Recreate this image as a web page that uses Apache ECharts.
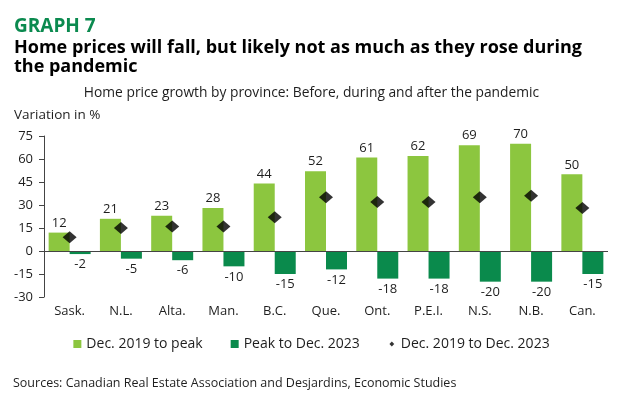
<!DOCTYPE html>
<html><head><meta charset="utf-8">
<script src="https://cdn.jsdelivr.net/npm/echarts@6/dist/echarts.min.js"></script>
<style>html,body{margin:0;padding:0;background:#fff}#c{width:623px;height:393px}</style>
</head><body><div id="c"></div>
<script>
const categories = ['Sask.','N.L.','Alta.','Man.','B.C.','Que.','Ont.','P.E.I.','N.S.','N.B.','Can.'];
const toPeak = [12,21,23,28,44,52,61,62,69,70,50];
const peakTo2023 = [-2,-5,-6,-10,-15,-12,-18,-18,-20,-20,-15];
const total = [9,15,16,16,22,35,32,32,35,36,28];
const yTicks = {min:-30, max:75, interval:15};

const FONT = '"Open Sans", "Liberation Sans", Arial, sans-serif';
const LIGHT = '#8cc63f', DARK = '#0a8a4c', TXT = '#1e1e1e';
const chart = echarts.init(document.getElementById('c'), null, {renderer:'canvas'});
chart.setOption({
  animation:false,
  textStyle:{fontFamily:FONT},
  title:[
    {text:'GRAPH 7', left:9, top:12, textStyle:{fontFamily:FONT,fontSize:19,fontWeight:'bold',color:'#0b8a4f'}},
    {text:'Home prices will fall, but likely not as much as they rose during\nthe pandemic', left:9, top:33,
     textStyle:{fontFamily:FONT,fontSize:18,fontWeight:'bold',color:'#000',lineHeight:19}},
    {text:'Home price growth by province: Before, during and after the pandemic', left:'center', top:81,
     textStyle:{fontFamily:FONT,fontSize:13.8,fontWeight:'normal',color:TXT}},
    {text:'Variation in %', left:9, top:103, textStyle:{fontFamily:FONT,fontSize:13.5,fontWeight:'normal',color:TXT}},
    {text:'Sources: Canadian Real Estate Association and Desjardins, Economic Studies', left:8, top:372,
     textStyle:{fontFamily:FONT,fontSize:12.5,fontWeight:'normal',color:TXT}}
  ],
  legend:{
    top:332, left:'center', itemGap:28, itemWidth:8, itemHeight:8,
    textStyle:{fontFamily:FONT,fontSize:14,color:TXT},
    data:[
      {name:'Dec. 2019 to peak', icon:'rect'},
      {name:'Peak to Dec. 2023', icon:'rect'},
      {name:'Dec. 2019 to Dec. 2023', icon:'path://M0,0L0,0M5,2L8,5L5,8L2,5ZM10,10L10,10'}
    ]
  },
  grid:{left:44, right:15, top:136, bottom:96, containLabel:false},
  xAxis:{type:'category', data:categories,
    axisLine:{show:false, onZero:false}, axisTick:{show:false},
    axisLabel:{color:TXT, fontSize:13, margin:8, fontFamily:FONT}},
  yAxis:{type:'value', min:yTicks.min, max:yTicks.max, interval:yTicks.interval,
    axisLine:{show:true, lineStyle:{color:'#444'}},
    axisTick:{show:true, length:5, lineStyle:{color:'#444'}},
    splitLine:{show:false},
    axisLabel:{color:TXT, fontSize:13, margin:11, fontFamily:FONT}},
  series:[
    {name:'Dec. 2019 to peak', type:'bar', data:toPeak, barWidth:21, barGap:'0%',
     itemStyle:{color:LIGHT},
     label:{show:true, position:'top', distance:3, color:TXT, fontSize:13, fontFamily:FONT},
     markLine:{silent:true, symbol:'none', label:{show:false}, lineStyle:{color:'#444', type:'solid', width:1},
       data:[{yAxis:0}]}},
    {name:'Peak to Dec. 2023', type:'bar', data:peakTo2023, barWidth:21,
     itemStyle:{color:DARK},
     label:{show:true, position:'bottom', distance:4, color:TXT, fontSize:13, fontFamily:FONT}},
    {name:'Dec. 2019 to Dec. 2023', type:'scatter', data:total, symbol:'diamond', symbolSize:[14,12],
     itemStyle:{color:'#000'}, z:5}
  ]
});
</script></body></html>
